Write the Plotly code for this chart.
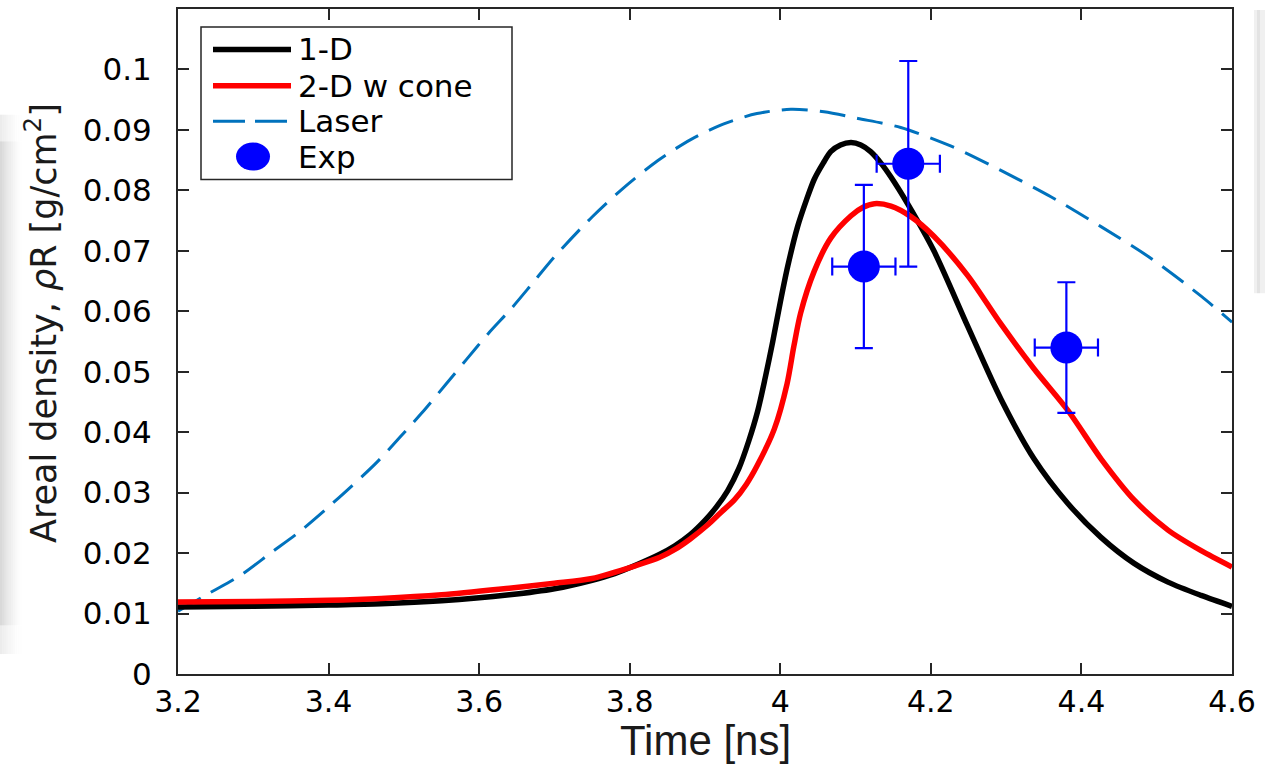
import plotly.graph_objects as go

# ---------------- data ----------------
time_1d = [3.20, 3.30, 3.40, 3.47, 3.55, 3.64, 3.70, 3.75, 3.78, 3.81, 3.84, 3.86,
           3.88, 3.90, 3.915, 3.93, 3.945, 3.958, 3.97, 3.98, 3.99, 4.00, 4.01,
           4.023, 4.035, 4.045, 4.057, 4.067, 4.080, 4.094, 4.107, 4.120, 4.135,
           4.147, 4.169, 4.204, 4.249, 4.293, 4.337, 4.382, 4.426, 4.470, 4.515,
           4.559, 4.600]
rho_1d = [0.0111, 0.0112, 0.0114, 0.0116, 0.0121, 0.0131, 0.0141, 0.0155, 0.0166,
          0.0181, 0.0198, 0.0212, 0.0230, 0.0254, 0.0276, 0.0303, 0.0340, 0.0385,
          0.0435, 0.0490, 0.0550, 0.0615, 0.0675, 0.0740, 0.0785, 0.0818, 0.0845,
          0.0864, 0.0875, 0.0879, 0.0875, 0.0864, 0.0843, 0.0822, 0.0778, 0.0700,
          0.0575, 0.0455, 0.0356, 0.0282, 0.0226, 0.0183, 0.0152, 0.0130, 0.0112]

time_2d = [3.20, 3.30, 3.40, 3.47, 3.55, 3.64, 3.70, 3.75, 3.81, 3.84, 3.86, 3.88,
           3.903, 3.92, 3.939, 3.955, 3.969, 3.992, 4.009, 4.018, 4.027, 4.045,
           4.067, 4.094, 4.110, 4.125, 4.147, 4.173, 4.204, 4.249, 4.293, 4.337,
           4.382, 4.426, 4.470, 4.515, 4.559, 4.600]
rho_2d = [0.0119, 0.0120, 0.0122, 0.0125, 0.0131, 0.0142, 0.0150, 0.0158, 0.0180,
          0.0193, 0.0206, 0.0223, 0.0246, 0.0266, 0.0288, 0.0314, 0.0344, 0.0405,
          0.0480, 0.0542, 0.0597, 0.0666, 0.0721, 0.0758, 0.0772, 0.0778, 0.0774,
          0.0757, 0.0724, 0.0659, 0.0579, 0.0505, 0.0436, 0.0356, 0.0288, 0.0238,
          0.0204, 0.0177]

time_laser = [3.20, 3.242, 3.284, 3.324, 3.360, 3.395, 3.430, 3.464, 3.495, 3.524,
              3.555, 3.583, 3.612, 3.643, 3.670, 3.700, 3.750, 3.790, 3.837, 3.881,
              3.925, 3.969, 4.014, 4.058, 4.103, 4.160, 4.227, 4.293, 4.360, 4.426,
              4.493, 4.559, 4.600]
laser = [0.0104, 0.0134, 0.0164, 0.0201, 0.0234, 0.0271, 0.0310, 0.0350, 0.0392,
         0.0432, 0.0478, 0.0520, 0.0563, 0.0605, 0.0645, 0.0690, 0.0756, 0.0802,
         0.0849, 0.0884, 0.0910, 0.0927, 0.0934, 0.0930, 0.0919, 0.0904, 0.0873,
         0.0833, 0.0789, 0.0740, 0.0687, 0.0625, 0.0582]

exp_time = [4.111, 4.170, 4.380]
exp_rho = [0.0674, 0.0844, 0.0540]
exp_time_err = [0.042, 0.042, 0.042]
exp_rho_err = [0.0135, 0.0170, 0.0108]

x_ticks = [3.2, 3.4, 3.6, 3.8, 4.0, 4.2, 4.4, 4.6]
x_tick_labels = ["3.2", "3.4", "3.6", "3.8", "4", "4.2", "4.4", "4.6"]
y_ticks = [0, 0.01, 0.02, 0.03, 0.04, 0.05, 0.06, 0.07, 0.08, 0.09, 0.1]
y_tick_labels = ["0", "0.01", "0.02", "0.03", "0.04", "0.05", "0.06", "0.07",
                 "0.08", "0.09", "0.1"]

legend_labels = ["1-D", "2-D w cone", "Laser", "Exp"]
x_title = "Time [ns]"
y_title = "Areal density, <i>ρ</i>R [g/cm<sup>2</sup>]"

# ---------------- styles ----------------
C_1D = "#000000"
C_2D = "#ff0000"
C_LASER = "#0072BD"
C_EXP = "#0000ff"
AX = "#262626"
DASH = "26px,12px"

W, H = 1265, 767
L, R, T, B = 178, 1232, 7, 674


def px(x):
    return (x - L) / (R - L)


def py(y):
    return (B - y) / (B - T)


fig = go.Figure()
fig.add_trace(go.Scatter(x=time_laser, y=laser, mode="lines", name=legend_labels[2],
                         line=dict(color=C_LASER, width=3, dash=DASH,
                                   shape="spline", smoothing=0.8), showlegend=False))
fig.add_trace(go.Scatter(x=time_1d, y=rho_1d, mode="lines", name=legend_labels[0],
                         line=dict(color=C_1D, width=5.5, shape="spline", smoothing=0.8),
                         showlegend=False))
fig.add_trace(go.Scatter(x=time_2d, y=rho_2d, mode="lines", name=legend_labels[1],
                         line=dict(color=C_2D, width=5.5, shape="spline", smoothing=0.8),
                         showlegend=False))
fig.add_trace(go.Scatter(
    x=exp_time, y=exp_rho, mode="markers", name=legend_labels[3],
    marker=dict(color=C_EXP, size=32, symbol="circle"),
    error_x=dict(type="data", array=exp_time_err, color=C_EXP, thickness=2.2, width=9),
    error_y=dict(type="data", array=exp_rho_err, color=C_EXP, thickness=2.2, width=9),
    showlegend=False))

shapes = []
annotations = []

# faint scan shading on the page edges
n_strip = 10
for i in range(n_strip):
    op = 0.15 * (1 - i / n_strip) ** 1.5
    for (y0, y1, f) in [(113, 140, 0.5), (140, 625, 1.0), (625, 654, 0.5)]:
        shapes.append(dict(type="rect", xref="paper", yref="paper", layer="below",
                           x0=px(i * 2.2), x1=px((i + 1) * 2.2), y0=py(y1), y1=py(y0),
                           fillcolor=f"rgba(0,0,0,{op * f:.3f})", line=dict(width=0)))
shapes.append(dict(type="rect", xref="paper", yref="paper", layer="below",
                   x0=px(1254), x1=px(1265), y0=py(292), y1=py(8),
                   fillcolor="rgba(0,0,0,0.06)", line=dict(width=0)))
shapes.append(dict(type="rect", xref="paper", yref="paper", layer="below",
                   x0=px(1257), x1=px(1260), y0=py(292), y1=py(8),
                   fillcolor="rgba(0,0,0,0.05)", line=dict(width=0)))

# legend (drawn by hand so its line samples match the reference length)
shapes.append(dict(type="rect", xref="paper", yref="paper",
                   x0=px(201), x1=px(512), y0=py(178), y1=py(25),
                   fillcolor="white", line=dict(color=AX, width=1.5)))
leg_y = [47.5, 84, 119.5, 155]
shapes.append(dict(type="line", xref="paper", yref="paper", x0=px(213), x1=px(291),
                   y0=py(leg_y[0]), y1=py(leg_y[0]), line=dict(color=C_1D, width=5.5)))
shapes.append(dict(type="line", xref="paper", yref="paper", x0=px(213), x1=px(291),
                   y0=py(leg_y[1]), y1=py(leg_y[1]), line=dict(color=C_2D, width=5.5)))
shapes.append(dict(type="line", xref="paper", yref="paper", x0=px(213), x1=px(291),
                   y0=py(leg_y[2]), y1=py(leg_y[2]),
                   line=dict(color=C_LASER, width=3, dash="32px,10px")))
shapes.append(dict(type="circle", xref="paper", yref="paper", x0=px(236), x1=px(270),
                   y0=py(leg_y[3] + 14), y1=py(leg_y[3] - 14),
                   fillcolor=C_EXP, line=dict(color=C_EXP, width=0)))
for lab, yy in zip(legend_labels, leg_y):
    annotations.append(dict(text=lab, xref="paper", yref="paper", x=px(296), y=py(yy),
                            xanchor="left", yanchor="middle", showarrow=False,
                            font=dict(family="DejaVu Sans", size=31, color="black")))

# axis titles placed where the reference has them
annotations.append(dict(text=y_title, xref="paper", yref="paper",
                        x=px(41), y=py(322), xanchor="center", yanchor="middle",
                        textangle=-90, showarrow=False,
                        font=dict(family="DejaVu Sans", size=35, color="#1a1a1a")))
annotations.append(dict(text=x_title, xref="paper", yref="paper",
                        x=px(705), y=py(741), xanchor="center", yanchor="middle",
                        showarrow=False,
                        font=dict(family="Liberation Sans", size=42, color="#1a1a1a")))

fig.update_layout(
    width=W, height=H, autosize=False,
    margin=dict(l=L, r=W - R, t=T, b=H - B, pad=0),
    paper_bgcolor="white", plot_bgcolor="white",
    shapes=shapes, annotations=annotations,
    showlegend=False,
    xaxis=dict(range=[3.2, 4.6], tickvals=x_ticks, ticktext=x_tick_labels,
               showline=True, linecolor=AX, linewidth=2, mirror="ticks",
               ticks="inside", ticklen=11, tickwidth=1.5, tickcolor=AX,
               showgrid=False, zeroline=False, ticklabelstandoff=0,
               tickfont=dict(family="DejaVu Sans", size=30, color="black")),
    yaxis=dict(range=[0, 0.11], tickvals=y_ticks, ticktext=y_tick_labels,
               showline=True, linecolor=AX, linewidth=2, mirror="ticks",
               ticks="inside", ticklen=11, tickwidth=1.5, tickcolor=AX,
               showgrid=False, zeroline=False, ticklabelstandoff=18,
               tickfont=dict(family="DejaVu Sans", size=31, color="black")),
)

fig.write_html("out.html")
